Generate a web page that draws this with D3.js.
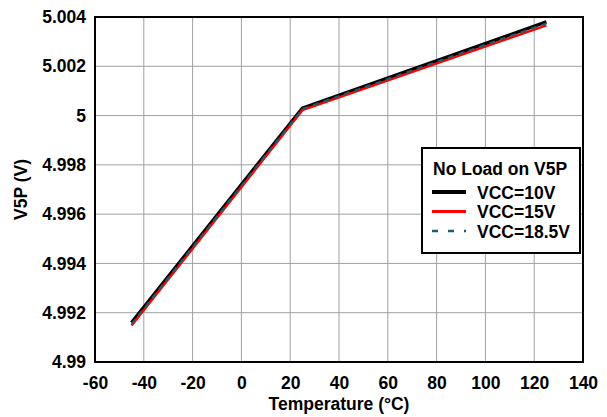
<!DOCTYPE html>
<html><head><meta charset="utf-8">
<script src="https://cdn.jsdelivr.net/npm/d3@7"></script>
<style>body{margin:0;background:#fff}text{font-family:"Liberation Sans",Arial,sans-serif;font-weight:bold;fill:#000}</style>
</head><body><svg id="c" width="607" height="417"></svg>
<script>
const temps = [-45, 25, 125];
const vcc10 = [4.99160, 5.00030, 5.00380];
const vcc15 = [4.99148, 5.00022, 5.00366];
const vcc185 = [4.99154, 5.00027, 5.00374];
const seriesNames = ["VCC=10V", "VCC=15V", "VCC=18.5V"];
const xTicks = [-60, -40, -20, 0, 20, 40, 60, 80, 100, 120, 140];
const yTicks = [4.99, 4.992, 4.994, 4.996, 4.998, 5, 5.002, 5.004];

const W = 607, H = 417, m = {l: 95, t: 17, r: 24, b: 55};
const FS = 17.5;
const svg = d3.select("#c");
const x = d3.scaleLinear().domain([-60, 140]).range([m.l, W - m.r]);
const y = d3.scaleLinear().domain([4.99, 5.004]).range([H - m.b, m.t]);

// grid
svg.append("g").selectAll("line").data(xTicks.slice(1, -1)).join("line")
  .attr("x1", d => x(d)).attr("x2", d => x(d)).attr("y1", y(4.99)).attr("y2", y(5.004))
  .attr("stroke", "#a0a0a0").attr("stroke-width", 1);
svg.append("g").selectAll("line").data(yTicks.slice(1, -1)).join("line")
  .attr("y1", d => y(d)).attr("y2", d => y(d)).attr("x1", x(-60)).attr("x2", x(140))
  .attr("stroke", "#a0a0a0").attr("stroke-width", 1);

// axes labels
const xa = svg.append("g").attr("transform", `translate(0,${y(4.99)})`)
  .call(d3.axisBottom(x).tickValues(xTicks).tickSize(0).tickPadding(15).tickFormat(d => String(d)));
xa.select(".domain").remove();
xa.selectAll("text").attr("font-size", FS).style("font-family", "Liberation Sans, Arial, sans-serif").style("font-weight", "bold");
const ya = svg.append("g").attr("transform", `translate(${x(-60)},0)`)
  .call(d3.axisLeft(y).tickValues(yTicks).tickSize(0).tickPadding(9).tickFormat(d => String(+d.toFixed(3))));
ya.select(".domain").remove();
ya.selectAll("text").attr("font-size", FS).style("font-family", "Liberation Sans, Arial, sans-serif").style("font-weight", "bold");

svg.append("text").attr("x", (x(-60) + x(140)) / 2).attr("y", 410).attr("text-anchor", "middle")
  .attr("font-size", FS).text("Temperature (°C)");
svg.append("text").attr("transform", `translate(27,${(y(4.99) + y(5.004)) / 2}) rotate(-90)`)
  .attr("text-anchor", "middle").attr("font-size", FS).text("V5P (V)");

// lines
const line = d3.line().x(d => x(d[0])).y(d => y(d[1]));
const styles = [
  {data: vcc10, color: "#000", w: 3.5, dash: null},
  {data: vcc15, color: "#ff0000", w: 2.5, dash: null},
  {data: vcc185, color: "#1b5e6e", w: 2, dash: "6,5"}
];
styles.forEach(s => {
  svg.append("path").datum(temps.map((t, i) => [t, s.data[i]]))
    .attr("d", line).attr("fill", "none").attr("stroke", s.color)
    .attr("stroke-width", s.w).attr("stroke-dasharray", s.dash);
});

// frame
svg.append("rect").attr("x", x(-60)).attr("y", y(5.004)).attr("width", x(140) - x(-60)).attr("height", y(4.99) - y(5.004))
  .attr("fill", "none").attr("stroke", "#000").attr("stroke-width", 2);

// legend
const lg = svg.append("g");
lg.append("rect").attr("x", 422).attr("y", 148).attr("width", 158).attr("height", 105)
  .attr("fill", "#fff").attr("stroke", "#000").attr("stroke-width", 2);
lg.append("text").attr("x", 433).attr("y", 175).attr("font-size", FS).text("No Load on V5P");
styles.forEach((s, i) => {
  const yy = 192 + i * 19.5;
  lg.append("line").attr("x1", 432).attr("x2", 466).attr("y1", yy).attr("y2", yy)
    .attr("stroke", s.color).attr("stroke-width", s.w + 0.5).attr("stroke-dasharray", s.dash ? "6,10" : null);
  lg.append("text").attr("x", 477).attr("y", yy + 6.5).attr("font-size", FS).text(seriesNames[i]);
});
</script></body></html>
